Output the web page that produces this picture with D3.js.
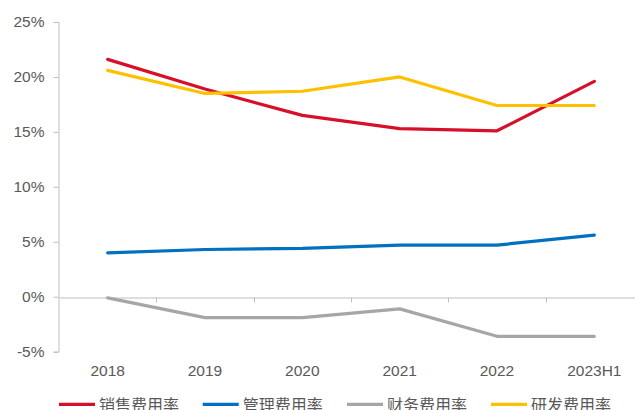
<!DOCTYPE html>
<html>
<head>
<meta charset="utf-8">
<script src="https://cdn.jsdelivr.net/npm/d3@7"></script>
<style>
  html, body { margin: 0; padding: 0; background: #fff; }
  svg { display: block; font-family: "Liberation Sans", Arial, sans-serif; }
</style>
</head>
<body>
<svg id="chart" width="635" height="410"></svg>
<script>
// Expense ratios by year (%)
const categories = ["2018", "2019", "2020", "2021", "2022", "2023H1"];
const sellingRate = [21.6, 18.9, 16.5, 15.3, 15.1, 19.6];
const adminRate   = [4.0, 4.3, 4.4, 4.7, 4.7, 5.6];
const financeRate = [-0.1, -1.9, -1.9, -1.1, -3.6, -3.6];
const rdRate      = [20.6, 18.5, 18.7, 20.0, 17.4, 17.4];
const yTicks = [-5, 0, 5, 10, 15, 20, 25];

const seriesNames  = ["销售费用率", "管理费用率", "财务费用率", "研发费用率"];
const seriesValues = [sellingRate, adminRate, financeRate, rdRate];
const seriesColors = ["#D7102A", "#0070C0", "#A6A6A6", "#FFC000"];

const svg = d3.select("#chart");

const x = d3.scaleBand().domain(categories).range([59, 643]);
const y = d3.scaleLinear().domain([-5, 25]).range([351.7, 22]);

const axisColor = "#BFBFBF";
const textColor = "#595959";

// Y axis
const yAxis = svg.append("g")
  .attr("transform", "translate(58.5,0)")
  .call(d3.axisLeft(y).tickValues(yTicks).tickSize(5).tickPadding(9)
    .tickFormat(d => d + "%"));
yAxis.select(".domain").attr("stroke", axisColor);
yAxis.selectAll(".tick line").attr("stroke", axisColor);
yAxis.selectAll(".tick text")
  .attr("fill", textColor)
  .style("font-size", "15.5px");

// X axis on the zero line, ticks between categories
const xAxis = svg.append("g")
  .attr("transform", `translate(0,${Math.round(y(0)) + 0.5})`)
  .call(d3.axisBottom(x).tickSize(0).tickSizeOuter(0).tickPadding(0).tickFormat(""));
xAxis.select(".domain").attr("stroke", axisColor);
xAxis.selectAll(".tick").remove();

const bounds = categories.slice(1).map(c => x(c));
svg.append("g").selectAll("line")
  .data(bounds)
  .join("line")
  .attr("x1", d => Math.round(d) + 0.5)
  .attr("x2", d => Math.round(d) + 0.5)
  .attr("y1", Math.round(y(0)) + 0.5)
  .attr("y2", Math.round(y(0)) + 5.5)
  .attr("stroke", axisColor);

// Category labels below the plot
svg.append("g").selectAll("text")
  .data(categories)
  .join("text")
  .attr("x", d => x(d) + x.bandwidth() / 2)
  .attr("y", 370)
  .attr("text-anchor", "middle")
  .attr("dominant-baseline", "central")
  .attr("fill", textColor)
  .style("font-size", "15.5px")
  .text(d => d);

// Lines
const line = d3.line()
  .x((d, i) => x(categories[i]) + x.bandwidth() / 2)
  .y(d => y(d));

svg.append("g").selectAll("path")
  .data(seriesValues)
  .join("path")
  .attr("d", d => line(d))
  .attr("fill", "none")
  .attr("stroke", (d, i) => seriesColors[i])
  .attr("stroke-width", 3.2)
  .attr("stroke-linejoin", "round")
  .attr("stroke-linecap", "round");

// Legend
const legendX = [59, 202.7, 347, 491];
const legendY = 404.3;
const legend = svg.append("g").selectAll("g")
  .data(seriesNames)
  .join("g")
  .attr("transform", (d, i) => `translate(${legendX[i]},${legendY})`);
legend.append("line")
  .attr("x1", 0).attr("x2", 36)
  .attr("y1", 0).attr("y2", 0)
  .attr("stroke", (d, i) => seriesColors[i])
  .attr("stroke-width", 3.2);
legend.append("text")
  .attr("x", 40)
  .attr("y", 0)
  .attr("dominant-baseline", "central")
  .attr("fill", textColor)
  .style("font-family", "'Noto Sans CJK SC', sans-serif")
  .style("font-size", "16px")
  .text(d => d);
</script>
</body>
</html>
